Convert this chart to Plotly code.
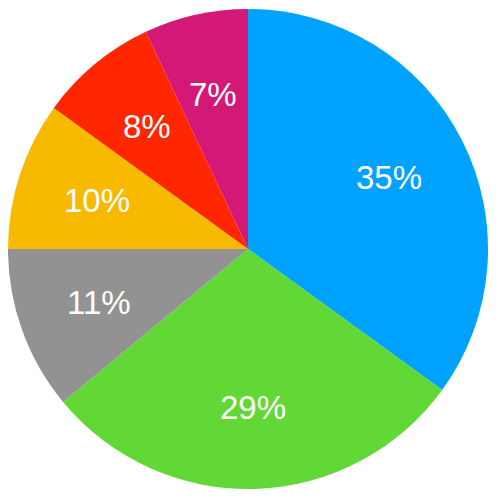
import math
import plotly.graph_objects as go

labels = ["A", "B", "C", "D", "E", "F"]
values = [35, 29, 11, 10, 8, 7]
colors = ["#00A2FF", "#61D836", "#929292", "#F8BA00", "#FF2600", "#D41876"]

fig = go.Figure(
    go.Pie(
        labels=labels,
        values=values,
        sort=False,
        direction="clockwise",
        rotation=0,
        marker=dict(colors=colors, line=dict(width=0)),
        textinfo="none",
        hoverinfo="skip",
        domain=dict(x=[0, 1], y=[0, 1]),
    )
)

# labels placed at about 2/3 of the radius, in the middle of each slice
total = sum(values)
cum = 0
for v in values:
    mid = (cum + v / 2) / total * 2 * math.pi
    cum += v
    r = 0.33
    fig.add_annotation(
        x=0.5 + r * math.sin(mid), y=0.5 + r * math.cos(mid),
        xref="paper", yref="paper",
        text=f"{round(v / total * 100)}%",
        showarrow=False, xanchor="center", yanchor="middle",
        font=dict(family="Liberation Sans, Arial, sans-serif", size=33, color="white"),
    )

fig.update_layout(
    width=499,
    height=500,
    showlegend=False,
    margin=dict(l=0, r=19, t=1, b=19),
    paper_bgcolor="white",
)

fig.write_html("out.html")
